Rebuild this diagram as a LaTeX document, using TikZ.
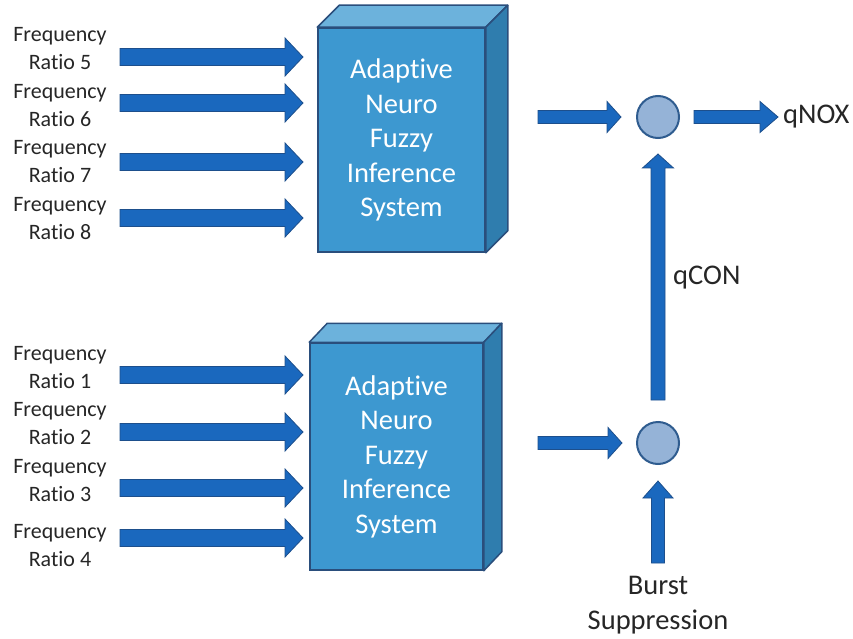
\documentclass[tikz,border=0pt]{standalone}
\usepackage{fontspec}
\setmainfont{Carlito}[Ligatures=NoCommon]
\usetikzlibrary{calc}
\definecolor{arrfill}{HTML}{1A68BE}
\definecolor{arrdraw}{HTML}{1D4F8C}
\definecolor{boxfront}{HTML}{3D98D0}
\definecolor{boxtop}{HTML}{6CB2DC}
\definecolor{boxside}{HTML}{2F7DAE}
\definecolor{boxline}{HTML}{2A4E7C}
\definecolor{circfill}{HTML}{95B3D7}
\definecolor{circline}{HTML}{2F5C8F}
\definecolor{txt}{HTML}{262626}
\tikzset{
  barrow/.style={fill=arrfill, draw=arrdraw, line width=0.8pt, line join=miter},
  flabel/.style={align=center, text=txt, font=\fontsize{22}{28}\selectfont, inner sep=0pt},
  olabel/.style={align=center, text=txt, font=\fontsize{28.5}{35}\selectfont, inner sep=0pt},
  anfis/.style={draw=boxline, fill=boxfront, line width=1.5pt, text=white, align=center,
    font=\fontsize{28.5}{34.5}\selectfont, inner sep=0pt},
  face/.style={draw=boxline, line width=1.5pt, line join=round},
  sumnode/.style={circle, draw=circline, fill=circfill, line width=2pt, minimum size=42pt, inner sep=0pt}
}
% horizontal block arrow: start, tip, shaft half, head half, head length
\newcommand\hblockarrow[5]{%
  \draw[barrow] ($(#1)+(0,-#3)$) -- ($(#2)+(-#5,-#3)$) -- ($(#2)+(-#5,-#4)$) -- (#2)
    -- ($(#2)+(-#5,#4)$) -- ($(#2)+(-#5,#3)$) -- ($(#1)+(0,#3)$) -- cycle;}
% vertical (upward) block arrow: start (bottom), tip (top), shaft half, head half, head length
\newcommand\vblockarrow[5]{%
  \draw[barrow] ($(#1)+(-#3,0)$) -- ($(#2)+(-#3,#5)$) -- ($(#2)+(-#4,#5)$) -- (#2)
    -- ($(#2)+(#4,#5)$) -- ($(#2)+(#3,#5)$) -- ($(#1)+(#3,0)$) -- cycle;}
\begin{document}
\begin{tikzpicture}[x=1pt, y=-1pt]
\useasboundingbox (0,0) rectangle (853,639);

% ---- boxes ----
\node[anfis, minimum width=167pt, minimum height=224pt] (box1) at (401.5,140)
  {Adaptive\\Neuro\\Fuzzy\\Inference\\System};
\draw[face, fill=boxtop] (box1.north west) -- ++(22,-22) -- ($(box1.north east)+(22,-22)$) -- (box1.north east) -- cycle;
\draw[face, fill=boxside] (box1.north east) -- ++(22,-22) -- ($(box1.south east)+(22,-22)$) -- (box1.south east) -- cycle;

\node[anfis, minimum width=173pt, minimum height=227pt] (box2) at (396.5,456.5)
  {Adaptive\\Neuro\\Fuzzy\\Inference\\System};
\draw[face, fill=boxtop] (box2.north west) -- ++(18,-19) -- ($(box2.north east)+(18,-19)$) -- (box2.north east) -- cycle;
\draw[face, fill=boxside] (box2.north east) -- ++(18,-19) -- ($(box2.south east)+(18,-19)$) -- (box2.south east) -- cycle;

% ---- input labels ----
\node[flabel] (l5) at (60,49)    {Frequency\\Ratio 5};
\node[flabel] (l6) at (60,106)   {Frequency\\Ratio 6};
\node[flabel] (l7) at (60,161.5) {Frequency\\Ratio 7};
\node[flabel] (l8) at (60,219)   {Frequency\\Ratio 8};
\node[flabel] (l1) at (60,368)   {Frequency\\Ratio 1};
\node[flabel] (l2) at (60,424)   {Frequency\\Ratio 2};
\node[flabel] (l3) at (60,481)   {Frequency\\Ratio 3};
\node[flabel] (l4) at (60,546)   {Frequency\\Ratio 4};

% ---- input arrows ----
\foreach \n/\y in {5/57,6/103,7/162,8/218,1/375,2/432,3/488,4/538}{
  \coordinate (s\n) at (120,\y);
  \coordinate (t\n) at (303,\y);
}
\foreach \n in {5,6,7,8,1,2,3,4}{ \hblockarrow{s\n}{t\n}{8.5}{19}{18} }

% ---- summing nodes ----
\node[sumnode] (c1) at (658,117) {};
\node[sumnode] (c2) at (658,443) {};

% ---- outputs / labels ----
\node[olabel, anchor=west] (qnox) at (783,117) {qNOX};
\node[olabel, anchor=west] (qcon) at (673,278) {qCON};
\node[olabel] (burst) at (658,605) {Burst\\Suppression};

% ---- right-hand arrows ----
\coordinate (b1o) at (538,117);
\coordinate (c1i) at ($(c1.west)+(-15,0)$);
\hblockarrow{b1o}{c1i}{6.5}{15.5}{14}
\coordinate (c1o) at ($(c1.east)+(14,0)$);
\coordinate (qni) at ($(qnox.west)+(-5,0)$);
\hblockarrow{c1o}{qni}{6.5}{15.5}{18}
\coordinate (b2o) at (538,443);
\coordinate (c2i) at ($(c2.west)+(-14,0)$);
\hblockarrow{b2o}{c2i}{6.5}{15.5}{14}
\coordinate (c2o) at ($(c2.north)+(0,-21)$);
\coordinate (c1b) at ($(c1.south)+(0,15)$);
\vblockarrow{c2o}{c1b}{7}{15.5}{14}
\coordinate (bs) at (658,563);
\coordinate (c2b) at ($(c2.south)+(0,16)$);
\vblockarrow{bs}{c2b}{6.5}{15}{17}
\end{tikzpicture}
\end{document}
